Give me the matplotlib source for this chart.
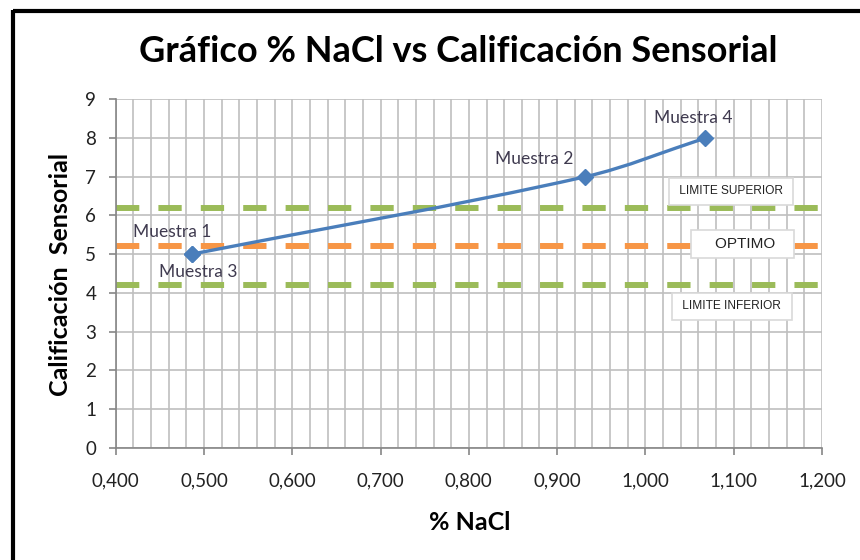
import numpy as np
import matplotlib.pyplot as plt
from matplotlib.path import Path
from matplotlib.patches import PathPatch
from matplotlib.lines import Line2D
from matplotlib.ticker import MultipleLocator, FuncFormatter

# Data
muestras = ["Muestra 1", "Muestra 2", "Muestra 3", "Muestra 4"]
nacl = [0.486, 0.932, 0.486, 1.068]
calificacion = [5, 7, 5, 8]

# reference lines
limite_superior = 6.2
optimo = 5.2
limite_inferior = 4.2

# label offsets in pixels (dx, dy) relative to each point
label_offsets = {"Muestra 1": (-19, 22), "Muestra 2": (-51, 18),
                 "Muestra 3": (7, -18), "Muestra 4": (-12, 20)}

fig = plt.figure(figsize=(8.6, 5.6), dpi=100)
ax = fig.add_axes([115.7 / 860, 1 - 447.7 / 560, (822 - 115.7) / 860, (447.7 - 99.3) / 560])

# black frame, only top and left edges are inside the picture
fig.add_artist(Line2D([13 / 860, 1.0], [1 - 11 / 560, 1 - 11 / 560], transform=fig.transFigure,
                      color="black", linewidth=3, solid_capstyle="butt"))
fig.add_artist(Line2D([13 / 860, 13 / 860], [0, 1 - 9.5 / 560], transform=fig.transFigure,
                      color="black", linewidth=3, solid_capstyle="butt"))

ax.set_xlim(0.4, 1.2)
ax.set_ylim(0, 9)
ax.xaxis.set_major_locator(MultipleLocator(0.1))
ax.xaxis.set_minor_locator(MultipleLocator(0.02))
ax.yaxis.set_major_locator(MultipleLocator(1))
ax.xaxis.set_major_formatter(FuncFormatter(lambda v, p: f"{v:.3f}".replace(".", ",")))

ax.grid(True, which="both", axis="x", color="#BFBFBF", linewidth=1.2)
ax.grid(True, which="major", axis="y", color="#BFBFBF", linewidth=1.2)
ax.set_axisbelow(True)
for s in ["top", "right"]:
    ax.spines[s].set_visible(False)
for s in ["left", "bottom"]:
    ax.spines[s].set_color("#868686")
    ax.spines[s].set_linewidth(1.2)
ax.tick_params(which="major", direction="out", length=5, color="#868686", width=1.2,
               labelsize=13.5, labelcolor="#222222")
ax.tick_params(axis="x", pad=13)
ax.tick_params(axis="y", pad=9)
ax.tick_params(which="minor", length=0)
for lab in ax.get_xticklabels() + ax.get_yticklabels():
    lab.set_family("Lato")

# limit lines
ax.axhline(limite_superior, color="#9BBB59", linewidth=4.3, dashes=(3.9, 3.2), zorder=2)
ax.axhline(optimo, color="#F79646", linewidth=4.3, dashes=(3.9, 3.2), zorder=2)
ax.axhline(limite_inferior, color="#9BBB59", linewidth=4.3, dashes=(3.9, 3.2), zorder=2)

# smoothed line through the sorted unique points, built in pixel space
pts = np.array(sorted(set(zip(nacl, calificacion))), dtype=float)
pix = ax.transData.transform(pts)
verts = [pix[0]]
codes = [Path.MOVETO]
n = len(pix)
for i in range(n - 1):
    p0, p1 = pix[max(i - 1, 0)], pix[i]
    p2, p3 = pix[i + 1], pix[min(i + 2, n - 1)]
    seg = np.linalg.norm(p2 - p1)
    t1 = p2 - p0
    t2 = p3 - p1
    c1 = p1 + t1 / np.linalg.norm(t1) * seg / 3
    c2 = p2 - t2 / np.linalg.norm(t2) * seg / 3
    verts += [c1, c2, p2]
    codes += [Path.CURVE4] * 3
verts = ax.transData.inverted().transform(np.array(verts))
ax.add_patch(PathPatch(Path(verts, codes), facecolor="none", edgecolor="#4A7EBB",
                       linewidth=2.4, zorder=4))
ax.plot(nacl, calificacion, linestyle="none", marker="D", markersize=8,
        color="#4A7EBB", zorder=5)

for name, x, y in zip(muestras, nacl, calificacion):
    dx, dy = label_offsets[name]
    ax.annotate(name, (x, y), xytext=(dx * 0.72, dy * 0.72), textcoords="offset points",
                ha="center", va="center", fontsize=12.5, family="Lato", color="#3F3A4F",
                zorder=6)

# text boxes for limits
box = dict(boxstyle="square,pad=0.6", facecolor="white", edgecolor="#D9D9D9", linewidth=1.2)
box2 = dict(boxstyle="square,pad=0.45", facecolor="white", edgecolor="#D9D9D9", linewidth=1.2)
ax.text(1.097, 6.62, " LIMITE SUPERIOR ", ha="center", va="center",
        fontsize=8.6, family="Liberation Sans", color="#222222", bbox=box, zorder=6)
ax.text(1.11, optimo + 0.06, "    OPTIMO   ", ha="center", va="center",
        fontsize=11, family="Liberation Sans", color="#222222", bbox=box2, zorder=6)
ax.text(1.098, 3.65, " LIMITE INFERIOR ", ha="center", va="center",
        fontsize=8.6, family="Liberation Sans", color="#222222", bbox=box, zorder=6)

fig.text(458 / 860, 1 - 52 / 560, "Gráfico % NaCl vs Calificación Sensorial",
         ha="center", va="center", fontsize=26, fontweight="bold", family="Lato")
fig.text(470 / 860, 1 - 523 / 560, "% NaCl", ha="center", va="center",
         fontsize=18, fontweight="bold", family="Lato")
fig.text(60 / 860, 1 - 274 / 560, "Calificación  Sensorial", ha="center", va="center",
         rotation=90, fontsize=18, fontweight="bold", family="Lato")

fig.savefig("out.png", dpi=100)
